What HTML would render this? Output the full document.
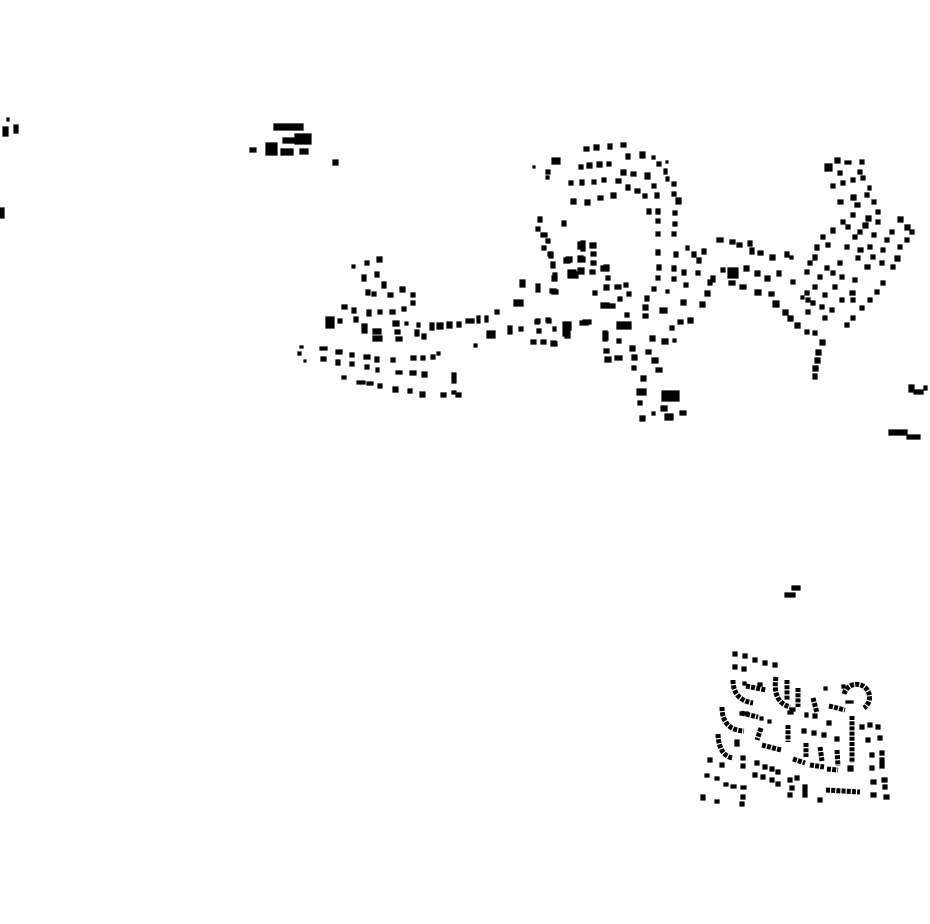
<!DOCTYPE html>
<html><head><meta charset="utf-8"><style>html,body{margin:0;padding:0;background:#fff}svg{display:block}</style></head><body>
<svg width="930" height="924" viewBox="0 0 930 924" xmlns="http://www.w3.org/2000/svg">
<rect width="930" height="924" fill="#fff"/>
<g fill="#000" stroke="#000" stroke-width="1.2" stroke-linejoin="miter">
<path d="M3 127h5v9h-5zM14 125h4v8h-4zM7 118h2v3h-2zM0 208h4v10h-4z
M274 124h29v6h-29zM283 138h17v5h-17zM295 134h16v10h-16zM250 148h6v4h-6zM266 143h11v12h-11zM281 149h12v6h-12zM300 149h8v5h-8zM333 160h5v5h-5z
M352 265h3v3h-3zM365 261h4v4h-4zM377 257h5v5h-5zM362 275h4v6h-4zM375 272h4v5h-4zM382 282h4v6h-4zM366 290h4v5h-4zM372 292h4v4h-4zM388 293h5v4h-5zM400 287h5v5h-5zM411 293h4v4h-4zM411 301h4v4h-4zM342 305h5v4h-5zM352 308h4v5h-4zM367 310h4v6h-4zM378 310h4v4h-4zM390 310h5v4h-5zM402 307h4v4h-4zM326 317h8v11h-8zM338 319h4v4h-4zM354 317h4v5h-4zM362 324h5v9h-5zM373 329h8v5h-8zM373 336h9v5h-9zM393 321h6v5h-6zM395 330h5v4h-5zM396 337h6v4h-6zM405 322h3v3h-3zM417 323h3v4h-3zM415 330h4v6h-4zM422 334h4v5h-4zM430 323h4v7h-4zM437 323h6v6h-6zM447 322h5v6h-5zM457 322h4v5h-4zM466 319h8v4h-8zM477 316h3v7h-3zM485 316h3v6h-3zM495 310h4v4h-4zM487 331h8v7h-8zM474 344h3v3h-3zM508 326h4v8h-4zM519 327h4v4h-4zM535 320h4v4h-4zM546 318h4v4h-4zM537 329h4v4h-4zM531 340h5v4h-5zM541 340h5v4h-5zM551 341h5v4h-5zM565 322h5v16h-5zM583 320h8v4h-8zM603 331h4v10h-4z
M520 280h5v7h-5zM536 284h4v8h-4zM550 289h6v4h-6zM514 300h9v6h-9zM541 233h4v4h-4zM548 252h5v4h-5zM551 262h4v4h-4zM553 273h4v5h-4zM566 257h6v5h-6zM578 242h4v7h-4zM578 256h5v5h-5zM590 243h6v5h-6zM591 252h5v4h-5zM591 261h5v4h-5zM590 270h5v4h-5zM568 270h8v8h-8zM578 268h6v6h-6zM601 266h5v5h-5z
M300 346h3v2h-3zM298 352h3v3h-3zM304 360h2v2h-2zM320 347h7v3h-7zM336 350h6v4h-6zM350 353h4v4h-4zM364 355h6v4h-6zM375 357h4v5h-4zM321 357h5v4h-5zM336 360h4v5h-4zM350 362h4v4h-4zM365 365h4v4h-4zM376 368h3v4h-3zM391 358h4v4h-4zM411 356h5v4h-5zM421 356h4v4h-4zM431 355h4v4h-4zM437 352h3v3h-3zM396 371h6v3h-6zM410 371h6v4h-6zM422 372h5v5h-5zM452 373h4v10h-4zM452 391h4v3h-4zM342 376h4v3h-4zM357 381h8v3h-8zM367 382h6v3h-6zM378 384h4v4h-4zM393 387h5v5h-5zM408 389h4v4h-4zM420 392h5v5h-5zM441 393h5v4h-5zM456 393h5v4h-5z
M552 158h8v6h-8zM533 166h2v2h-2zM546 170h4v4h-4zM546 176h3v3h-3zM584 147h5v4h-5zM594 145h5v5h-5zM608 144h4v5h-4zM621 143h5v4h-5zM626 154h4v5h-4zM640 152h5v6h-5zM652 156h3v3h-3zM657 162h4v4h-4zM666 161h2v2h-2zM579 165h4v4h-4zM587 163h5v5h-5zM597 162h5v5h-5zM607 162h4v4h-4zM621 170h5v5h-5zM631 172h5v4h-5zM645 173h5v6h-5zM652 184h4v4h-4zM664 169h3v5h-3zM666 177h3v4h-3zM672 182h4v4h-4zM569 181h4v4h-4zM580 180h4v5h-4zM592 180h4v4h-4zM602 178h4v4h-4zM616 179h5v4h-5zM626 185h4v5h-4zM635 189h5v4h-5zM643 194h4v4h-4zM655 193h4v5h-4zM672 192h4v4h-4zM676 198h5v6h-5zM571 199h5v5h-5zM585 200h5v5h-5zM598 196h5v4h-5zM611 193h5v5h-5zM647 209h4v5h-4zM656 209h4v5h-4zM673 211h4v4h-4zM656 219h4v4h-4zM673 222h4v4h-4zM656 232h4v4h-4zM672 232h4v4h-4zM538 217h4v5h-4zM562 221h4v5h-4zM536 227h4v4h-4zM542 233h5v4h-5zM546 239h4v4h-4zM542 246h4v4h-4zM549 253h4v5h-4zM551 263h4v5h-4zM552 276h5v5h-5zM552 290h6v4h-6z
M581 241h4v10h-4zM590 243h6v5h-6zM564 258h6v5h-6zM578 257h7v5h-7zM604 265h5v6h-5zM570 272h8v6h-8zM606 276h4v4h-4z
M656 250h4v5h-4zM674 252h4v5h-4zM686 246h3v4h-3zM692 252h4v5h-4zM702 249h4v5h-4zM657 265h4v5h-4zM672 266h4v5h-4zM697 258h4v5h-4zM682 270h4v5h-4zM696 271h4v4h-4zM711 276h4v6h-4zM656 276h4v4h-4zM672 277h4v4h-4zM684 283h4v4h-4zM708 280h4v5h-4zM652 287h4v4h-4zM666 290h3v3h-3zM705 291h5v5h-5zM700 302h5v5h-5zM681 300h5v5h-5zM645 296h4v5h-4zM643 305h5v5h-5zM660 308h7v5h-7zM643 314h5v4h-5zM625 313h4v4h-4z
M593 291h4v4h-4zM604 285h5v5h-5zM615 285h6v4h-6zM624 283h4v4h-4zM627 292h4v4h-4zM601 303h8v5h-8zM610 304h5v4h-5zM618 297h4v4h-4z
M536 319h4v4h-4zM547 319h4v4h-4zM563 322h8v8h-8zM563 328h7v8h-7zM537 329h4v4h-4zM553 327h3v4h-3zM531 340h5v4h-5zM541 340h5v4h-5zM551 342h6v4h-6zM580 321h8v4h-8zM603 332h5v8h-5zM617 322h14v7h-14zM630 346h5v5h-5zM632 355h5v5h-5zM604 349h5v4h-5zM605 357h6v5h-6zM615 356h7v4h-7zM617 339h4v4h-4zM650 336h5v5h-5zM662 339h6v5h-6zM646 350h5v4h-5zM652 358h6v5h-6zM632 366h4v4h-4zM641 376h5v5h-5zM656 368h6v4h-6zM670 326h4v4h-4zM678 320h5v4h-5zM688 318h5v5h-5zM673 339h3v3h-3z
M637 389h9v6h-9zM662 391h17v10h-17zM638 401h4v4h-4zM661 406h6v5h-6zM665 414h8v6h-8zM640 416h5v5h-5zM680 411h6v4h-6zM652 412h3v3h-3z
M717 238h6v4h-6zM730 240h5v4h-5zM737 243h5v4h-5zM748 241h4v5h-4zM750 248h4v6h-4zM758 251h5v4h-5zM770 255h5v5h-5zM785 252h4v5h-4zM790 256h3v3h-3zM728 268h10v10h-10zM721 268h4v4h-4zM744 266h5v5h-5zM755 271h5v5h-5zM765 276h5v5h-5zM777 271h4v5h-4zM729 281h6v4h-6zM740 285h6v4h-6zM755 290h6v5h-6zM769 292h5v4h-5zM791 280h4v4h-4zM773 301h6v6h-6zM783 310h5v5h-5zM788 316h5v5h-5zM795 323h5v5h-5zM805 330h4v4h-4zM813 331h4v4h-4zM820 340h5v5h-5zM816 350h5v5h-5zM815 358h5v5h-5zM813 366h5v5h-5zM813 374h4v5h-4z
M825 164h7v7h-7zM835 158h5v5h-5zM845 161h6v3h-6zM860 160h4v4h-4zM838 171h4v4h-4zM831 184h4v4h-4zM841 181h4v4h-4zM851 178h4v4h-4zM858 170h4v4h-4zM861 176h4v4h-4zM838 200h5v4h-5zM851 195h5v5h-5zM865 193h4v4h-4zM872 200h4v4h-4zM868 186h3v4h-3zM855 203h5v4h-5zM876 210h4v4h-4zM851 213h4v4h-4zM841 220h4v4h-4zM846 225h4v4h-4zM866 216h5v5h-5zM863 223h5v5h-5zM876 220h4v4h-4zM898 217h5v5h-5zM905 225h5v5h-5zM910 230h4v4h-4zM890 230h4v4h-4zM905 238h4v4h-4zM898 245h4v4h-4zM885 238h4v4h-4zM872 233h4v4h-4zM858 230h4v4h-4zM853 235h4v4h-4zM831 228h4v5h-4zM821 235h4v4h-4zM826 243h4v4h-4zM815 245h4v5h-4zM845 245h4v4h-4zM858 248h5v4h-5zM868 245h4v4h-4zM881 248h4v4h-4zM871 255h4v4h-4zM856 256h4v4h-4zM895 256h5v5h-5zM891 265h4v4h-4zM880 261h4v4h-4zM865 265h5v4h-5zM838 261h4v4h-4zM825 266h4v4h-4zM813 255h4v5h-4zM808 261h4v4h-4zM805 270h4v4h-4zM818 275h4v4h-4zM831 271h4v4h-4zM840 275h4v4h-4zM853 278h4v4h-4zM833 285h4v4h-4zM850 291h5v4h-5zM823 293h4v4h-4zM813 285h4v4h-4zM805 291h4v4h-4zM806 298h4v4h-4zM801 296h3v3h-3zM811 301h4v4h-4zM806 310h4v4h-4zM820 305h4v4h-4zM830 308h4v4h-4zM823 316h4v4h-4zM840 298h4v4h-4zM881 281h4v4h-4zM875 290h4v4h-4zM868 298h4v4h-4zM860 306h4v4h-4zM851 316h4v4h-4zM845 323h4v4h-4zM851 298h4v4h-4z
M909 385h5v7h-5zM914 390h9v4h-9zM924 386h3v4h-3zM889 430h18v5h-18zM907 435h13v4h-13zM785 593h10v4h-10zM792 586h8v4h-8z
M733 652h4v4h-4zM743 654h4v4h-4zM753 658h4v4h-4zM763 661h4v4h-4zM773 663h4v4h-4zM733 665h4v4h-4zM742 667h4v4h-4zM743 682h3v3h-3zM758 683h4v3h-4zM740 712h3v3h-3zM745 712h3v3h-3zM760 717h3v3h-3zM768 720h3v3h-3zM788 711h5v3h-5zM790 708h5v3h-5zM846 701h7v2h-7zM802 729h4v4h-4zM812 731h4v4h-4zM822 733h4v4h-4zM835 737h4v4h-4zM827 721h4v4h-4zM813 714h4v4h-4zM805 713h3v4h-3zM860 725h4v4h-4zM868 723h4v4h-4zM876 725h4v4h-4zM866 738h4v4h-4zM878 736h4v4h-4zM870 753h4v4h-4zM880 751h4v4h-4zM870 766h4v4h-4zM880 758h4v10h-4zM871 780h5v4h-5zM882 778h5v4h-5zM871 793h5v4h-5zM883 785h4v4h-4zM884 795h5v4h-5zM735 740h4v6h-4zM708 758h4v4h-4zM720 763h4v4h-4zM741 756h4v4h-4zM741 764h4v4h-4zM755 761h4v4h-4zM763 765h4v4h-4zM770 767h4v4h-4zM776 770h4v4h-4zM705 774h4v3h-4zM715 777h4v3h-4zM724 783h4v3h-4zM731 785h5v3h-5zM741 786h5v3h-5zM753 773h4v4h-4zM761 775h4v4h-4zM770 778h4v4h-4zM776 782h4v4h-4zM701 795h4v5h-4zM715 800h4v3h-4zM741 795h4v4h-4zM740 802h4v4h-4zM788 778h4v4h-4zM795 776h4v4h-4zM790 786h4v4h-4zM788 793h4v4h-4zM803 785h4v12h-4zM818 798h4v4h-4zM848 766h5v5h-5zM842 685h3v3h-3zM824 687h3v3h-3z"/>
</g>
<g fill="none" stroke="#000" stroke-width="5" stroke-dasharray="4 1.2">
<path d="M733 680 Q733 700 753 703"/>
<path d="M746 686 L766 690"/>
<path d="M776 677 Q772 702 790 707"/>
<path d="M787 680 L787 700"/>
<path d="M798 688 L798 707"/>
<path d="M813 698 L817 713"/>
<path d="M829 706 L845 710"/>
<path d="M722 707 Q722 730 744 731"/>
<path d="M741 713 L758 717"/>
<path d="M761 728 L757 740"/>
<path d="M788 725 L788 742"/>
<path d="M718 734 Q719 756 733 758"/>
<path d="M762 745 L781 750"/>
<path d="M806 743 L806 757"/>
<path d="M820 747 L822 761"/>
<path d="M837 750 L838 766"/>
<path d="M852 716 L852 763"/>
<path d="M793 759 L805 763"/>
<path d="M810 765 L824 767"/>
<path d="M827 769 L838 770"/>
<path d="M826 790 L860 792"/>
<path d="M844 694 A13 13 0 1 1 864 708"/>
</g>
</svg>
</body></html>
